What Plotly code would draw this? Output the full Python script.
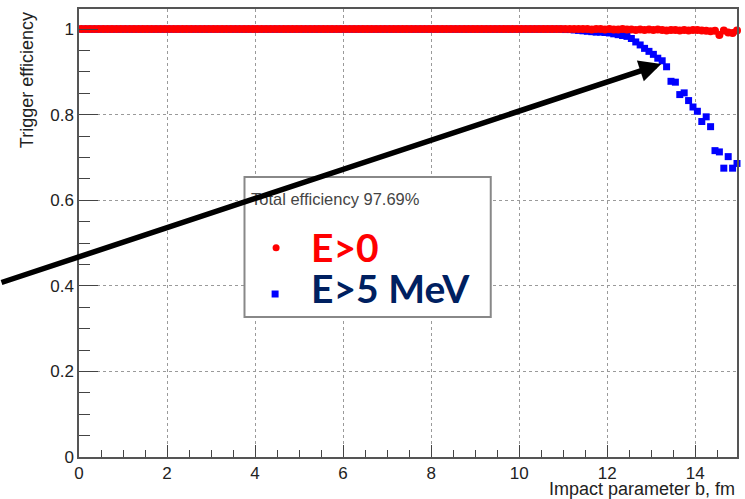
import plotly.graph_objects as go

# Bin centres of impact parameter b (fm)
b_fm = [
    0.05, 0.15, 0.25, 0.35, 0.45, 0.55, 0.65, 0.75, 0.85, 0.95,
    1.05, 1.15, 1.25, 1.35, 1.45, 1.55, 1.65, 1.75, 1.85, 1.95,
    2.05, 2.15, 2.25, 2.35, 2.45, 2.55, 2.65, 2.75, 2.85, 2.95,
    3.05, 3.15, 3.25, 3.35, 3.45, 3.55, 3.65, 3.75, 3.85, 3.95,
    4.05, 4.15, 4.25, 4.35, 4.45, 4.55, 4.65, 4.75, 4.85, 4.95,
    5.05, 5.15, 5.25, 5.35, 5.45, 5.55, 5.65, 5.75, 5.85, 5.95,
    6.05, 6.15, 6.25, 6.35, 6.45, 6.55, 6.65, 6.75, 6.85, 6.95,
    7.05, 7.15, 7.25, 7.35, 7.45, 7.55, 7.65, 7.75, 7.85, 7.95,
    8.05, 8.15, 8.25, 8.35, 8.45, 8.55, 8.65, 8.75, 8.85, 8.95,
    9.05, 9.15, 9.25, 9.35, 9.45, 9.55, 9.65, 9.75, 9.85, 9.95,
    10.05, 10.15, 10.25, 10.35, 10.45, 10.55, 10.65, 10.75, 10.85, 10.95,
    11.05, 11.15, 11.25, 11.35, 11.45, 11.55, 11.65, 11.75, 11.85, 11.95,
    12.05, 12.15, 12.25, 12.35, 12.45, 12.55, 12.65, 12.75, 12.85, 12.95,
    13.05, 13.15, 13.25, 13.35, 13.45, 13.55, 13.65, 13.75, 13.85, 13.95,
    14.05, 14.15, 14.25, 14.35, 14.45, 14.55, 14.65, 14.75, 14.85, 14.95,
]

# Efficiency, E>0 (red)
eff_e0 = [
    1.0, 1.0, 1.0, 1.0, 1.0, 1.0, 1.0, 1.0, 1.0, 1.0,
    1.0, 1.0, 1.0, 1.0, 1.0, 1.0, 1.0, 1.0, 1.0, 1.0,
    1.0, 1.0, 1.0, 1.0, 1.0, 1.0, 1.0, 1.0, 1.0, 1.0,
    1.0, 1.0, 1.0, 1.0, 1.0, 1.0, 1.0, 1.0, 1.0, 1.0,
    1.0, 1.0, 1.0, 1.0, 1.0, 1.0, 1.0, 1.0, 1.0, 1.0,
    1.0, 1.0, 1.0, 1.0, 1.0, 1.0, 1.0, 1.0, 1.0, 1.0,
    1.0, 1.0, 1.0, 1.0, 1.0, 1.0, 1.0, 1.0, 1.0, 1.0,
    1.0, 1.0, 1.0, 1.0, 1.0, 1.0, 1.0, 1.0, 1.0, 1.0,
    1.0, 1.0, 1.0, 1.0, 1.0, 1.0, 1.0, 1.0, 1.0, 1.0,
    1.0, 1.0, 1.0, 1.0, 1.0, 1.0, 1.0, 1.0, 1.0, 1.0,
    1.0, 1.0, 1.0, 1.0, 1.0, 1.0, 1.0, 1.0, 1.0, 1.0,
    1.0, 1.0, 1.0, 1.0, 1.0, 1.0, 0.999, 1.0, 1.0, 0.999,
    1.0, 0.999, 0.999, 1.0, 0.999, 0.999, 0.998, 0.999, 0.998, 0.999,
    0.998, 0.999, 0.998, 0.997, 0.998, 0.998, 0.997, 0.998, 0.997, 0.998,
    0.998, 0.997, 0.996, 0.995, 0.996, 0.986, 0.997, 0.992, 0.991, 0.997,
]

# Efficiency, E>5 MeV (blue)
eff_e5 = [
    1.0, 1.0, 1.0, 1.0, 1.0, 1.0, 1.0, 1.0, 1.0, 1.0,
    1.0, 1.0, 1.0, 1.0, 1.0, 1.0, 1.0, 1.0, 1.0, 1.0,
    1.0, 1.0, 1.0, 1.0, 1.0, 1.0, 1.0, 1.0, 1.0, 1.0,
    1.0, 1.0, 1.0, 1.0, 1.0, 1.0, 1.0, 1.0, 1.0, 1.0,
    1.0, 1.0, 1.0, 1.0, 1.0, 1.0, 1.0, 1.0, 1.0, 1.0,
    1.0, 1.0, 1.0, 1.0, 1.0, 1.0, 1.0, 1.0, 1.0, 1.0,
    1.0, 1.0, 1.0, 1.0, 1.0, 1.0, 1.0, 1.0, 1.0, 1.0,
    1.0, 1.0, 1.0, 1.0, 1.0, 1.0, 1.0, 1.0, 1.0, 1.0,
    1.0, 1.0, 1.0, 1.0, 1.0, 1.0, 1.0, 1.0, 1.0, 1.0,
    1.0, 1.0, 1.0, 1.0, 1.0, 1.0, 1.0, 1.0, 1.0, 1.0,
    1.0, 1.0, 1.0, 1.0, 1.0, 1.0, 1.0, 1.0, 1.0, 1.0,
    0.999, 0.999, 0.998, 0.997, 0.996, 0.995, 0.994, 0.993, 0.993, 0.992,
    0.991, 0.989, 0.987, 0.985, 0.983, 0.978, 0.970, 0.963, 0.955, 0.948,
    0.941, 0.932, 0.926, 0.912, 0.878, 0.876, 0.847, 0.851, 0.833, 0.818,
    0.808, 0.784, 0.795, 0.772, 0.716, 0.713, 0.675, 0.702, 0.675, 0.686,
]

x_ticks = [0, 2, 4, 6, 8, 10, 12, 14]
y_ticks = [0, 0.2, 0.4, 0.6, 0.8, 1.0]

legend_title = "Total efficiency 97.69%"
label_e0 = "E>0"
label_e5 = "E>5 MeV"

W, H = 745, 499
ML, MR, MT, MB = 79, 6, 9, 42
PW, PH = W - ML - MR, H - MT - MB


def px(xp):
    return (xp - ML) / PW


def py(yp):
    return (H - MB - yp) / PH


fig = go.Figure()
fig.add_trace(go.Scatter(
    x=b_fm, y=eff_e5, mode="markers", name=label_e5,
    marker=dict(symbol="square", size=7, color="#0000ff", line=dict(width=0)),
    cliponaxis=False, showlegend=False,
))
fig.add_trace(go.Scatter(
    x=b_fm, y=eff_e0, mode="markers", name=label_e0,
    marker=dict(symbol="circle", size=8, color="#ff0000", line=dict(width=0)),
    cliponaxis=False, showlegend=False,
))

axis_common = dict(
    showline=True, mirror=True, linecolor="#555", linewidth=1.5,
    ticks="inside", tickcolor="#444", tickwidth=1.2,
    showgrid=True, gridcolor="#9a9a9a", griddash="dot", gridwidth=1,
    zeroline=False,
    tickfont=dict(family="Liberation Sans", size=17, color="#222"),
)

fig.update_xaxes(
    range=[0, 14.95], tickvals=x_ticks, ticklen=12,
    minor=dict(dtick=0.5, ticks="inside", ticklen=7, tickcolor="#444", showgrid=False),
    **axis_common,
)
fig.update_yaxes(
    range=[0, 1.047], tickvals=y_ticks, ticklen=19,
    minor=dict(dtick=0.05, ticks="inside", ticklen=11, tickcolor="#444", showgrid=False),
    **axis_common,
)

shapes = [
    # legend box
    dict(type="rect", xref="paper", yref="paper", layer="above",
         x0=px(245), x1=px(492), y0=py(317), y1=py(177),
         fillcolor="white", line=dict(color="#888", width=2)),
    # legend markers
    dict(type="circle", xref="paper", yref="paper", layer="above",
         x0=px(273.2), x1=px(280.2), y0=py(251.2), y1=py(244.2),
         fillcolor="#ff0000", line=dict(width=0)),
    dict(type="rect", xref="paper", yref="paper", layer="above",
         x0=px(272.2), x1=px(279.2), y0=py(297.5), y1=py(290.5),
         fillcolor="#0000ff", line=dict(width=0)),
]

annotations = [
    dict(text="Trigger efficiency", xref="paper", yref="paper",
         x=px(27), y=py(10), xanchor="center", yanchor="top", textangle=-90,
         showarrow=False, font=dict(family="Liberation Sans", size=18, color="#222")),
    dict(text="Impact parameter b, fm", xref="paper", yref="paper",
         x=1.0, y=py(489), xanchor="right", yanchor="middle",
         showarrow=False, font=dict(family="Liberation Sans", size=18, color="#222")),
    dict(text=legend_title, xref="paper", yref="paper",
         x=px(250), y=py(199), xanchor="left", yanchor="middle",
         showarrow=False, font=dict(family="Liberation Sans", size=16.5, color="#444")),
    dict(text=label_e0, xref="paper", yref="paper",
         x=px(310), y=py(247), xanchor="left", yanchor="middle", height=36,
         showarrow=False, font=dict(family="Lato", size=39, color="#ff0000", weight="bold")),
    dict(text=label_e5, xref="paper", yref="paper",
         x=px(310), y=py(288), xanchor="left", yanchor="middle", height=36,
         showarrow=False, font=dict(family="Lato", size=39, color="#002060", weight="bold")),
    # black arrow
    dict(text="", xref="paper", yref="paper", x=px(663), y=py(64),
         axref="pixel", ayref="pixel", ax=-663, ay=219,
         showarrow=True, arrowhead=2, arrowsize=0.8, arrowwidth=5.5,
         arrowcolor="black", standoff=0),
]

fig.update_layout(
    width=W, height=H,
    margin=dict(l=ML, r=MR, t=MT, b=MB),
    paper_bgcolor="white", plot_bgcolor="white",
    shapes=shapes, annotations=annotations,
    showlegend=False,
)

fig.write_html(
    "out.html",
    config={"displayModeBar": False},
    post_script="document.body.style.margin='0';document.body.style.padding='0';",
)
